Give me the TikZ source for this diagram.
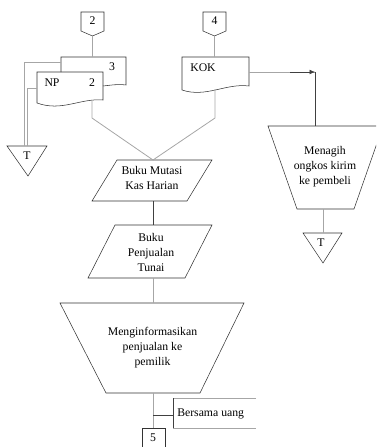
\documentclass[tikz,border=0pt]{standalone}
\usepackage{fontspec}
\setmainfont{Liberation Serif}
\usetikzlibrary{arrows.meta}

\begin{document}
\begin{tikzpicture}[x=0.75pt,y=-0.75pt,
	shp/.style={draw=black!80,line width=0.4pt},
	lne/.style={draw=black!75,line width=0.4pt},
	fnt/.style={draw=black!35,line width=0.6pt},
	txt/.style={font=\rmfamily\fontsize{8.8}{11.3}\selectfont,align=center,inner sep=0pt}]
	\clip (0,0) rectangle (376,447);
	
	% penghubung halaman
	\draw[shp] (81,12) -- (104,12) -- (104,31) -- (92.5,36) coordinate (c2b) -- (81,31) -- cycle;
	\node[txt] (c2) at (92.5,21) {2};
	\draw[shp] (203,12) -- (226,12) -- (226,31) -- (214.5,36) coordinate (c4b) -- (203,31) -- cycle;
	\node[txt] (c4) at (214.5,21) {4};
	
	% dokumen
	\draw[shp] (103,86) .. controls (112,85) and (118,84) .. (126,85) -- (126,57) coordinate (d3r) -- (61,57) -- (61,72);
	\coordinate (d3t) at (92.5,57);
	\coordinate (d3l) at (61,62);
	\node[txt] (d3) at (112,67) {3};
	\draw[shp] (37,72) -- (103,72) -- (103,100) .. controls (80,98) and (62,112) .. (37,103) -- cycle;
	\coordinate (npl) at (37,88);
	\coordinate (npb) at (92,101);
	\node[txt] (np) at (52,83) {NP};
	\node[txt] (np2) at (92,83) {2};
	\draw[shp] (182,57) -- (249,57) -- (249,86) .. controls (226,83) and (206,98) .. (182,90) -- cycle;
	\coordinate (kokt) at (214.5,57);
	\coordinate (kokr) at (249,72);
	\coordinate (kokb) at (215,89);
	\node[txt] (kok) at (203,68) {KOK};
	
	% arsip
	\draw[shp] (7,146) -- (47,146) -- (28,176) -- cycle;
	\coordinate (t1a) at (24,146);
	\coordinate (t1b) at (27,146);
	\node[txt] (t1) at (27,156) {T};
	\draw[shp] (303,233) -- (342,233) -- (323,263) -- cycle;
	\coordinate (t2t) at (323,233);
	\node[txt] (t2) at (321,243) {T};
	
	% proses manual
	\draw[shp] (268,126) -- (383,126) -- (354,209) -- (297,209) -- cycle;
	\coordinate (mgt) at (315,126);
	\coordinate (mgb) at (323,209);
	\node[txt] (mg) at (325,166.5) {Menagih\\ongkos kirim\\ke pembeli};
	\draw[shp] (60,303) -- (244,303) -- (200,393) -- (106,393) -- cycle;
	\coordinate (mit) at (153,303);
	\coordinate (mib) at (153,393);
	\node[txt] (mi) at (152.5,347.5) {Menginformasikan\\penjualan ke\\pemilik};
	
	% buku
	\draw[shp] (117,160) -- (212,160) -- (187,201) -- (92,201) -- cycle;
	\coordinate (bmt) at (153,160);
	\coordinate (bmb) at (153,201);
	\node[txt] (bm) at (152,178) {Buku Mutasi\\Kas Harian};
	\draw[shp] (115,225) -- (212,225) -- (185,278) -- (88,278) -- cycle;
	\coordinate (bpt) at (153,225);
	\coordinate (bpb) at (153,278);
	\node[txt] (bp) at (151,252.5) {Buku\\Penjualan\\Tunai};
	
	\draw[shp] (142,450) -- (142,428) -- (165,428) -- (165,450);
	\coordinate (c5t) at (153,428);
	\node[txt] (c5) at (153,438) {5};
	
	% keterangan
	\draw[fnt] (256,398) -- (173,398) -- (173,428) -- (256,428);
	\draw[lne] (173,398) -- (173,428);
	\coordinate (ket) at (173,415);
	\node[txt,anchor=west] (bu) at (177,414) {Bersama uang};
	
	% garis alir
	\draw[fnt] (c2b) -- (d3t);
	\draw[fnt] (c4b) -- (kokt);
	\draw[fnt] (d3l) -- (24,62) -- (t1a);
	\draw[fnt] (npl) -- (27,88) -- (t1b);
	\draw[fnt] (npb) -- (92,118) -- (bmt);
	\draw[fnt] (kokb) -- (215,118) -- (bmt);
	\coordinate (sudut) at (315,72);
	\draw[fnt] (kokr) -- (sudut);
	\draw[lne,-{Latex[length=4pt,width=3.5pt]}] (290,72) -- (sudut);
	\draw[lne] (mgt) -- (sudut);
	\draw[fnt] (mgb) -- (t2t);
	\draw[lne] (bmb) -- (bpt);
	\draw[fnt] (bpb) -- (mit);
	\draw[fnt] (mib) -- (c5t);
	\draw[lne] (153,415) -- (ket);
\end{tikzpicture}
\end{document}
